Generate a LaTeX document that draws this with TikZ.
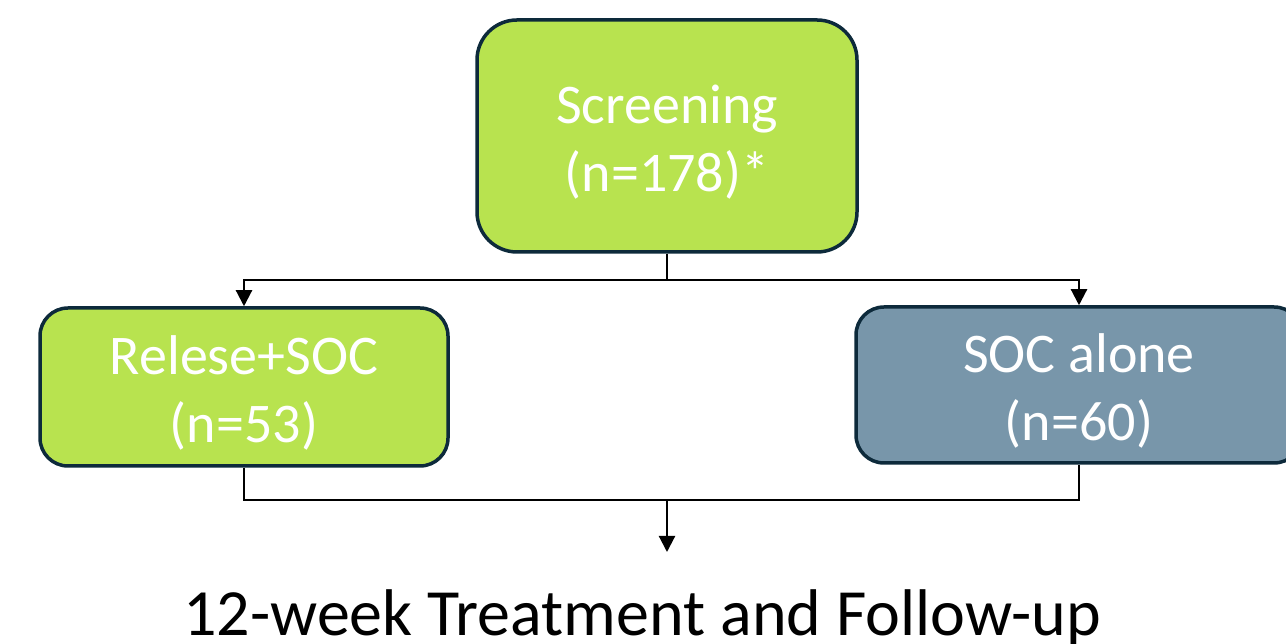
\documentclass[tikz,border=0pt]{standalone}
\usepackage{fontspec}
\setmainfont{Carlito}
\usetikzlibrary{arrows.meta}
\definecolor{boxgreen}{HTML}{B8E34F}
\definecolor{boxblue}{HTML}{7896AA}
\definecolor{boxedge}{HTML}{0D2A3B}
\begin{document}
\begin{tikzpicture}[x=1pt,y=1pt,
  flowbox/.style={draw=boxedge, line width=3.5pt, inner sep=0pt},
  boxtext/.style={align=center, text=white, inner sep=0pt,
    font=\fontsize{56}{68}\selectfont, yshift=-6pt},
  conn/.style={line width=2.2pt, black},
  arr/.style={conn, -{Triangle[width=16pt,length=16pt]}}]
\useasboundingbox (0,0) rectangle (1286,644);
\clip (0,0) rectangle (1286,644);
\fill[white] (0,0) rectangle (1286,644);
\node[flowbox, fill=boxgreen, minimum width=380pt, minimum height=232pt, rounded corners=40pt,
  label={[boxtext]center:{Screening\\(n=178)*}}]
  (scr) at (667,508) {};
\node[flowbox, fill=boxgreen, minimum width=408pt, minimum height=158pt, rounded corners=28pt,
  label={[boxtext]center:{Relese+SOC\\(n=53)}}]
  (rel) at (244,257) {};
\node[flowbox, fill=boxblue, minimum width=446pt, minimum height=156pt, rounded corners=28pt,
  label={[boxtext]center:{SOC alone\\(n=60)}}]
  (soc) at (1079,259) {};
\coordinate (split) at (667,364);
\coordinate (merge) at (667,144);
\coordinate (out) at (667,92);
\draw[conn] (scr.south) -- (split);
\draw[arr] (split) -| (rel.north);
\draw[arr] (split) -| (soc.north);
\draw[conn] (rel.south) |- (merge) -| (soc.south);
\draw[arr] (merge) -- (out);
\node[anchor=base, inner sep=0pt, font=\fontsize{66}{80}\selectfont] (fu) at (642,8)
  {12-week Treatment and Follow-up};
\end{tikzpicture}
\end{document}
